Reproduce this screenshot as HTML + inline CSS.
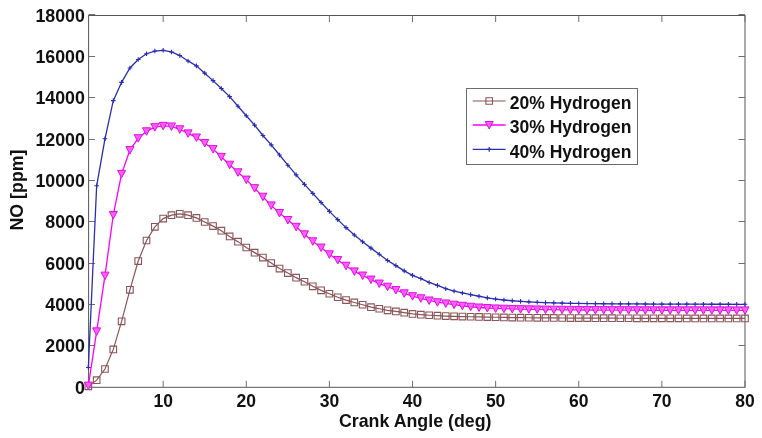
<!DOCTYPE html>
<html><head><meta charset="utf-8"><style>
html,body{margin:0;padding:0;background:#fff;width:762px;height:438px;overflow:hidden;font-family:"Liberation Sans",sans-serif;}
svg{display:block;filter:blur(0.4px)}
</style></head><body>
<svg width="762" height="438" viewBox="0 0 762 438"><rect x="0" y="0" width="762" height="438" fill="#fff"/><rect x="88.6" y="15.5" width="656.4" height="371.8" fill="none" stroke="#555" stroke-width="1"/><path d="M163.16,387.30v-6.5M163.16,15.50v6.5M246.28,387.30v-6.5M246.28,15.50v6.5M329.40,387.30v-6.5M329.40,15.50v6.5M412.52,387.30v-6.5M412.52,15.50v6.5M495.64,387.30v-6.5M495.64,15.50v6.5M578.76,387.30v-6.5M578.76,15.50v6.5M661.88,387.30v-6.5M661.88,15.50v6.5M745.00,387.30v-6.5M745.00,15.50v6.5M88.60,345.50h6.5M745.00,345.50h-6.5M88.60,304.50h6.5M745.00,304.50h-6.5M88.60,263.50h6.5M745.00,263.50h-6.5M88.60,221.50h6.5M745.00,221.50h-6.5M88.60,180.50h6.5M745.00,180.50h-6.5M88.60,139.50h6.5M745.00,139.50h-6.5M88.60,97.50h6.5M745.00,97.50h-6.5M88.60,56.50h6.5M745.00,56.50h-6.5M88.60,14.50h6.5M745.00,14.50h-6.5" stroke="#707070" stroke-width="1" fill="none"/><path d="M88.35,386.37 L96.66,380.19 L104.97,369.00 L113.29,349.38 L121.60,321.36 L129.91,289.85 L138.22,261.07 L146.53,240.51 L154.85,226.82 L163.16,218.61 L171.47,215.20 L179.78,213.82 L188.09,215.20 L196.41,217.91 L204.72,222.01 L213.03,226.12 L221.34,230.67 L229.65,236.46 L237.97,241.63 L246.28,247.52 L254.59,252.63 L262.90,257.53 L271.21,263.03 L279.53,268.53 L287.84,273.04 L296.15,277.65 L304.46,281.74 L312.77,286.29 L321.09,290.35 L329.40,293.76 L337.71,297.25 L346.02,300.06 L354.33,302.46 L362.65,304.76 L370.96,307.16 L379.27,308.77 L387.58,310.36 L395.89,311.46 L404.21,312.66 L412.52,313.96 L420.83,314.69 L429.14,315.27 L437.45,315.72 L445.77,316.07 L454.08,316.34 L462.39,316.58 L470.70,316.77 L479.01,316.94 L487.33,317.10 L495.64,317.25 L503.95,317.40 L512.26,317.53 L520.57,317.65 L528.89,317.75 L537.20,317.83 L545.51,317.89 L553.82,317.94 L562.13,317.99 L570.45,318.03 L578.76,318.07 L587.07,318.10 L595.38,318.14 L603.69,318.17 L612.01,318.20 L620.32,318.23 L628.63,318.26 L636.94,318.28 L645.25,318.31 L653.57,318.33 L661.88,318.34 L670.19,318.36 L678.50,318.37 L686.81,318.39 L695.13,318.40 L703.44,318.41 L711.75,318.42 L720.06,318.43 L728.37,318.44 L736.69,318.44 L745.00,318.45" fill="none" stroke="#8a5458" stroke-width="1.2"/><path d="M85.05,383.07h6.6v6.6h-6.6zM93.36,376.89h6.6v6.6h-6.6zM101.67,365.70h6.6v6.6h-6.6zM109.99,346.08h6.6v6.6h-6.6zM118.30,318.06h6.6v6.6h-6.6zM126.61,286.55h6.6v6.6h-6.6zM134.92,257.77h6.6v6.6h-6.6zM143.23,237.21h6.6v6.6h-6.6zM151.55,223.52h6.6v6.6h-6.6zM159.86,215.31h6.6v6.6h-6.6zM168.17,211.90h6.6v6.6h-6.6zM176.48,210.52h6.6v6.6h-6.6zM184.79,211.90h6.6v6.6h-6.6zM193.11,214.61h6.6v6.6h-6.6zM201.42,218.71h6.6v6.6h-6.6zM209.73,222.82h6.6v6.6h-6.6zM218.04,227.37h6.6v6.6h-6.6zM226.35,233.16h6.6v6.6h-6.6zM234.67,238.33h6.6v6.6h-6.6zM242.98,244.22h6.6v6.6h-6.6zM251.29,249.33h6.6v6.6h-6.6zM259.60,254.23h6.6v6.6h-6.6zM267.91,259.73h6.6v6.6h-6.6zM276.23,265.23h6.6v6.6h-6.6zM284.54,269.74h6.6v6.6h-6.6zM292.85,274.35h6.6v6.6h-6.6zM301.16,278.44h6.6v6.6h-6.6zM309.47,282.99h6.6v6.6h-6.6zM317.79,287.05h6.6v6.6h-6.6zM326.10,290.46h6.6v6.6h-6.6zM334.41,293.95h6.6v6.6h-6.6zM342.72,296.76h6.6v6.6h-6.6zM351.03,299.16h6.6v6.6h-6.6zM359.35,301.46h6.6v6.6h-6.6zM367.66,303.86h6.6v6.6h-6.6zM375.97,305.47h6.6v6.6h-6.6zM384.28,307.06h6.6v6.6h-6.6zM392.59,308.16h6.6v6.6h-6.6zM400.91,309.36h6.6v6.6h-6.6zM409.22,310.66h6.6v6.6h-6.6zM417.53,311.39h6.6v6.6h-6.6zM425.84,311.97h6.6v6.6h-6.6zM434.15,312.42h6.6v6.6h-6.6zM442.47,312.77h6.6v6.6h-6.6zM450.78,313.04h6.6v6.6h-6.6zM459.09,313.28h6.6v6.6h-6.6zM467.40,313.47h6.6v6.6h-6.6zM475.71,313.64h6.6v6.6h-6.6zM484.03,313.80h6.6v6.6h-6.6zM492.34,313.95h6.6v6.6h-6.6zM500.65,314.10h6.6v6.6h-6.6zM508.96,314.23h6.6v6.6h-6.6zM517.27,314.35h6.6v6.6h-6.6zM525.59,314.45h6.6v6.6h-6.6zM533.90,314.53h6.6v6.6h-6.6zM542.21,314.59h6.6v6.6h-6.6zM550.52,314.64h6.6v6.6h-6.6zM558.83,314.69h6.6v6.6h-6.6zM567.15,314.73h6.6v6.6h-6.6zM575.46,314.77h6.6v6.6h-6.6zM583.77,314.80h6.6v6.6h-6.6zM592.08,314.84h6.6v6.6h-6.6zM600.39,314.87h6.6v6.6h-6.6zM608.71,314.90h6.6v6.6h-6.6zM617.02,314.93h6.6v6.6h-6.6zM625.33,314.96h6.6v6.6h-6.6zM633.64,314.98h6.6v6.6h-6.6zM641.95,315.01h6.6v6.6h-6.6zM650.27,315.03h6.6v6.6h-6.6zM658.58,315.04h6.6v6.6h-6.6zM666.89,315.06h6.6v6.6h-6.6zM675.20,315.07h6.6v6.6h-6.6zM683.51,315.09h6.6v6.6h-6.6zM691.83,315.10h6.6v6.6h-6.6zM700.14,315.11h6.6v6.6h-6.6zM708.45,315.12h6.6v6.6h-6.6zM716.76,315.13h6.6v6.6h-6.6zM725.07,315.14h6.6v6.6h-6.6zM733.39,315.14h6.6v6.6h-6.6zM741.70,315.15h6.6v6.6h-6.6z" fill="none" stroke="#8a5458" stroke-width="1.1"/><path d="M88.35,385.55 L96.66,331.37 L104.97,275.64 L113.29,214.95 L121.60,173.89 L129.91,150.07 L138.22,138.18 L146.53,131.27 L154.85,127.16 L163.16,125.85 L171.47,126.45 L179.78,129.27 L188.09,133.36 L196.41,137.47 L204.72,142.97 L213.03,149.07 L221.34,156.85 L229.65,164.69 L237.97,172.30 L246.28,179.60 L254.59,188.14 L262.90,196.70 L271.21,205.40 L279.53,213.01 L287.84,220.02 L296.15,226.82 L304.46,234.33 L312.77,241.30 L321.09,247.52 L329.40,254.32 L337.71,260.03 L346.02,265.74 L354.33,271.40 L362.65,275.54 L370.96,279.55 L379.27,283.54 L387.58,286.71 L395.89,290.01 L404.21,293.32 L412.52,296.16 L420.83,298.29 L429.14,300.46 L437.45,302.21 L445.77,303.45 L454.08,304.70 L462.39,305.73 L470.70,306.76 L479.01,307.49 L487.33,308.02 L495.64,308.42 L503.95,308.70 L512.26,308.94 L520.57,309.14 L528.89,309.31 L537.20,309.45 L545.51,309.57 L553.82,309.69 L562.13,309.79 L570.45,309.88 L578.76,309.96 L587.07,310.02 L595.38,310.07 L603.69,310.11 L612.01,310.14 L620.32,310.17 L628.63,310.20 L636.94,310.22 L645.25,310.24 L653.57,310.26 L661.88,310.28 L670.19,310.29 L678.50,310.31 L686.81,310.32 L695.13,310.34 L703.44,310.35 L711.75,310.36 L720.06,310.37 L728.37,310.37 L736.69,310.38 L745.00,310.38" fill="none" stroke="#ff00ff" stroke-width="1.3"/><path d="M84.35,382.05L92.35,382.05L88.35,389.55zM92.66,327.87L100.66,327.87L96.66,335.37zM100.97,272.14L108.97,272.14L104.97,279.64zM109.29,211.45L117.29,211.45L113.29,218.95zM117.60,170.39L125.60,170.39L121.60,177.89zM125.91,146.57L133.91,146.57L129.91,154.07zM134.22,134.68L142.22,134.68L138.22,142.18zM142.53,127.77L150.53,127.77L146.53,135.27zM150.85,123.66L158.85,123.66L154.85,131.16zM159.16,122.35L167.16,122.35L163.16,129.85zM167.47,122.95L175.47,122.95L171.47,130.45zM175.78,125.77L183.78,125.77L179.78,133.27zM184.09,129.86L192.09,129.86L188.09,137.36zM192.41,133.97L200.41,133.97L196.41,141.47zM200.72,139.47L208.72,139.47L204.72,146.97zM209.03,145.57L217.03,145.57L213.03,153.07zM217.34,153.35L225.34,153.35L221.34,160.85zM225.65,161.19L233.65,161.19L229.65,168.69zM233.97,168.80L241.97,168.80L237.97,176.30zM242.28,176.10L250.28,176.10L246.28,183.60zM250.59,184.64L258.59,184.64L254.59,192.14zM258.90,193.20L266.90,193.20L262.90,200.70zM267.21,201.90L275.21,201.90L271.21,209.40zM275.53,209.51L283.53,209.51L279.53,217.01zM283.84,216.52L291.84,216.52L287.84,224.02zM292.15,223.32L300.15,223.32L296.15,230.82zM300.46,230.83L308.46,230.83L304.46,238.33zM308.77,237.80L316.77,237.80L312.77,245.30zM317.09,244.02L325.09,244.02L321.09,251.52zM325.40,250.82L333.40,250.82L329.40,258.32zM333.71,256.53L341.71,256.53L337.71,264.03zM342.02,262.24L350.02,262.24L346.02,269.74zM350.33,267.90L358.33,267.90L354.33,275.40zM358.65,272.04L366.65,272.04L362.65,279.54zM366.96,276.05L374.96,276.05L370.96,283.55zM375.27,280.04L383.27,280.04L379.27,287.54zM383.58,283.21L391.58,283.21L387.58,290.71zM391.89,286.51L399.89,286.51L395.89,294.01zM400.21,289.82L408.21,289.82L404.21,297.32zM408.52,292.66L416.52,292.66L412.52,300.16zM416.83,294.79L424.83,294.79L420.83,302.29zM425.14,296.96L433.14,296.96L429.14,304.46zM433.45,298.71L441.45,298.71L437.45,306.21zM441.77,299.95L449.77,299.95L445.77,307.45zM450.08,301.20L458.08,301.20L454.08,308.70zM458.39,302.23L466.39,302.23L462.39,309.73zM466.70,303.26L474.70,303.26L470.70,310.76zM475.01,303.99L483.01,303.99L479.01,311.49zM483.33,304.52L491.33,304.52L487.33,312.02zM491.64,304.92L499.64,304.92L495.64,312.42zM499.95,305.20L507.95,305.20L503.95,312.70zM508.26,305.44L516.26,305.44L512.26,312.94zM516.57,305.64L524.57,305.64L520.57,313.14zM524.89,305.81L532.89,305.81L528.89,313.31zM533.20,305.95L541.20,305.95L537.20,313.45zM541.51,306.07L549.51,306.07L545.51,313.57zM549.82,306.19L557.82,306.19L553.82,313.69zM558.13,306.29L566.13,306.29L562.13,313.79zM566.45,306.38L574.45,306.38L570.45,313.88zM574.76,306.46L582.76,306.46L578.76,313.96zM583.07,306.52L591.07,306.52L587.07,314.02zM591.38,306.57L599.38,306.57L595.38,314.07zM599.69,306.61L607.69,306.61L603.69,314.11zM608.01,306.64L616.01,306.64L612.01,314.14zM616.32,306.67L624.32,306.67L620.32,314.17zM624.63,306.70L632.63,306.70L628.63,314.20zM632.94,306.72L640.94,306.72L636.94,314.22zM641.25,306.74L649.25,306.74L645.25,314.24zM649.57,306.76L657.57,306.76L653.57,314.26zM657.88,306.78L665.88,306.78L661.88,314.28zM666.19,306.79L674.19,306.79L670.19,314.29zM674.50,306.81L682.50,306.81L678.50,314.31zM682.81,306.82L690.81,306.82L686.81,314.32zM691.13,306.84L699.13,306.84L695.13,314.34zM699.44,306.85L707.44,306.85L703.44,314.35zM707.75,306.86L715.75,306.86L711.75,314.36zM716.06,306.87L724.06,306.87L720.06,314.37zM724.37,306.87L732.37,306.87L728.37,314.37zM732.69,306.88L740.69,306.88L736.69,314.38zM741.00,306.88L749.00,306.88L745.00,314.38z" fill="#ff5cff" stroke="#e010e0" stroke-width="1"/><path d="M88.35,367.56 L96.66,185.80 L104.97,138.78 L113.29,100.65 L121.60,82.35 L129.91,67.94 L138.22,59.44 L146.53,53.73 L154.85,51.02 L163.16,50.32 L171.47,51.93 L179.78,55.53 L188.09,61.03 L196.41,65.83 L204.72,73.15 L213.03,80.63 L221.34,88.45 L229.65,96.64 L237.97,106.25 L246.28,115.70 L254.59,125.17 L262.90,135.47 L271.21,144.92 L279.53,155.03 L287.84,165.18 L296.15,174.88 L304.46,184.35 L312.77,193.35 L321.09,202.51 L329.40,211.42 L337.71,219.61 L346.02,227.61 L354.33,234.93 L362.65,241.73 L370.96,248.12 L379.27,254.32 L387.58,260.53 L395.89,265.61 L404.21,270.89 L412.52,275.33 L420.83,278.54 L429.14,282.45 L437.45,285.36 L445.77,288.69 L454.08,291.01 L462.39,292.95 L470.70,294.60 L479.01,296.26 L487.33,297.87 L495.64,299.04 L503.95,300.01 L512.26,300.77 L520.57,301.37 L528.89,301.89 L537.20,302.31 L545.51,302.63 L553.82,302.87 L562.13,303.09 L570.45,303.28 L578.76,303.44 L587.07,303.56 L595.38,303.66 L603.69,303.74 L612.01,303.81 L620.32,303.87 L628.63,303.92 L636.94,303.97 L645.25,304.01 L653.57,304.04 L661.88,304.08 L670.19,304.11 L678.50,304.13 L686.81,304.16 L695.13,304.19 L703.44,304.21 L711.75,304.23 L720.06,304.25 L728.37,304.27 L736.69,304.28 L745.00,304.28" fill="none" stroke="#2a30aa" stroke-width="1.3"/><path d="M86.05,367.56h4.6M88.35,365.26v4.6M94.36,185.80h4.6M96.66,183.50v4.6M102.67,138.78h4.6M104.97,136.48v4.6M110.99,100.65h4.6M113.29,98.35v4.6M119.30,82.35h4.6M121.60,80.05v4.6M127.61,67.94h4.6M129.91,65.64v4.6M135.92,59.44h4.6M138.22,57.14v4.6M144.23,53.73h4.6M146.53,51.43v4.6M152.55,51.02h4.6M154.85,48.72v4.6M160.86,50.32h4.6M163.16,48.02v4.6M169.17,51.93h4.6M171.47,49.63v4.6M177.48,55.53h4.6M179.78,53.23v4.6M185.79,61.03h4.6M188.09,58.73v4.6M194.11,65.83h4.6M196.41,63.53v4.6M202.42,73.15h4.6M204.72,70.85v4.6M210.73,80.63h4.6M213.03,78.33v4.6M219.04,88.45h4.6M221.34,86.15v4.6M227.35,96.64h4.6M229.65,94.34v4.6M235.67,106.25h4.6M237.97,103.95v4.6M243.98,115.70h4.6M246.28,113.40v4.6M252.29,125.17h4.6M254.59,122.87v4.6M260.60,135.47h4.6M262.90,133.17v4.6M268.91,144.92h4.6M271.21,142.62v4.6M277.23,155.03h4.6M279.53,152.73v4.6M285.54,165.18h4.6M287.84,162.88v4.6M293.85,174.88h4.6M296.15,172.58v4.6M302.16,184.35h4.6M304.46,182.05v4.6M310.47,193.35h4.6M312.77,191.05v4.6M318.79,202.51h4.6M321.09,200.21v4.6M327.10,211.42h4.6M329.40,209.12v4.6M335.41,219.61h4.6M337.71,217.31v4.6M343.72,227.61h4.6M346.02,225.31v4.6M352.03,234.93h4.6M354.33,232.63v4.6M360.35,241.73h4.6M362.65,239.43v4.6M368.66,248.12h4.6M370.96,245.82v4.6M376.97,254.32h4.6M379.27,252.02v4.6M385.28,260.53h4.6M387.58,258.23v4.6M393.59,265.61h4.6M395.89,263.31v4.6M401.91,270.89h4.6M404.21,268.59v4.6M410.22,275.33h4.6M412.52,273.03v4.6M418.53,278.54h4.6M420.83,276.24v4.6M426.84,282.45h4.6M429.14,280.15v4.6M435.15,285.36h4.6M437.45,283.06v4.6M443.47,288.69h4.6M445.77,286.39v4.6M451.78,291.01h4.6M454.08,288.71v4.6M460.09,292.95h4.6M462.39,290.65v4.6M468.40,294.60h4.6M470.70,292.30v4.6M476.71,296.26h4.6M479.01,293.96v4.6M485.03,297.87h4.6M487.33,295.57v4.6M493.34,299.04h4.6M495.64,296.74v4.6M501.65,300.01h4.6M503.95,297.71v4.6M509.96,300.77h4.6M512.26,298.47v4.6M518.27,301.37h4.6M520.57,299.07v4.6M526.59,301.89h4.6M528.89,299.59v4.6M534.90,302.31h4.6M537.20,300.01v4.6M543.21,302.63h4.6M545.51,300.33v4.6M551.52,302.87h4.6M553.82,300.57v4.6M559.83,303.09h4.6M562.13,300.79v4.6M568.15,303.28h4.6M570.45,300.98v4.6M576.46,303.44h4.6M578.76,301.14v4.6M584.77,303.56h4.6M587.07,301.26v4.6M593.08,303.66h4.6M595.38,301.36v4.6M601.39,303.74h4.6M603.69,301.44v4.6M609.71,303.81h4.6M612.01,301.51v4.6M618.02,303.87h4.6M620.32,301.57v4.6M626.33,303.92h4.6M628.63,301.62v4.6M634.64,303.97h4.6M636.94,301.67v4.6M642.95,304.01h4.6M645.25,301.71v4.6M651.27,304.04h4.6M653.57,301.74v4.6M659.58,304.08h4.6M661.88,301.78v4.6M667.89,304.11h4.6M670.19,301.81v4.6M676.20,304.13h4.6M678.50,301.83v4.6M684.51,304.16h4.6M686.81,301.86v4.6M692.83,304.19h4.6M695.13,301.89v4.6M701.14,304.21h4.6M703.44,301.91v4.6M709.45,304.23h4.6M711.75,301.93v4.6M717.76,304.25h4.6M720.06,301.95v4.6M726.07,304.27h4.6M728.37,301.97v4.6M734.39,304.28h4.6M736.69,301.98v4.6M742.70,304.28h4.6M745.00,301.98v4.6" fill="none" stroke="#2a2ab8" stroke-width="1.1"/><g font-family="Liberation Sans" font-weight="bold" font-size="17.5" fill="#111"><text x="84.9" y="393.80" text-anchor="end" font-size="17.8">0</text><text x="84.9" y="352.44" text-anchor="end" font-size="17.8">2000</text><text x="84.9" y="311.09" text-anchor="end" font-size="17.8">4000</text><text x="84.9" y="269.73" text-anchor="end" font-size="17.8">6000</text><text x="84.9" y="228.38" text-anchor="end" font-size="17.8">8000</text><text x="84.9" y="187.02" text-anchor="end" font-size="17.8">10000</text><text x="84.9" y="145.67" text-anchor="end" font-size="17.8">12000</text><text x="84.9" y="104.31" text-anchor="end" font-size="17.8">14000</text><text x="84.9" y="62.96" text-anchor="end" font-size="17.8">16000</text><text x="84.9" y="21.60" text-anchor="end" font-size="17.8">18000</text><text x="163.16" y="406.5" text-anchor="middle">10</text><text x="246.28" y="406.5" text-anchor="middle">20</text><text x="329.40" y="406.5" text-anchor="middle">30</text><text x="412.52" y="406.5" text-anchor="middle">40</text><text x="495.64" y="406.5" text-anchor="middle">50</text><text x="578.76" y="406.5" text-anchor="middle">60</text><text x="661.88" y="406.5" text-anchor="middle">70</text><text x="745.00" y="406.5" text-anchor="middle">80</text><text x="415.2" y="426.6" text-anchor="middle" font-size="17.8">Crank Angle (deg)</text><text transform="translate(22.9,190.0) rotate(-90)" text-anchor="middle" font-size="17.8">NO [ppm]</text></g><rect x="466.5" y="88.5" width="171.00" height="76.00" fill="#fff" stroke="#6a6a6a" stroke-width="1"/><path d="M472.7,101.0H505.6" stroke="#8a5458" stroke-width="1.1"/><path d="M485.90,97.70h6.6v6.6h-6.6z" fill="none" stroke="#8a5458" stroke-width="1.1"/><path d="M472.7,125.0H505.6" stroke="#ff00ff" stroke-width="1.3"/><path d="M485.20,121.50L493.20,121.50L489.20,129.00z" fill="#ff5cff" stroke="#e010e0" stroke-width="1"/><path d="M472.7,149.4H505.6" stroke="#2a30aa" stroke-width="1.1"/><path d="M486.90,149.40h4.6M489.20,147.10v4.6" stroke="#2a2ab8" stroke-width="1.2"/><g font-family="Liberation Sans" font-weight="bold" font-size="17.5" fill="#111"><text x="509.8" y="109.10">20% Hydrogen</text><text x="509.8" y="133.10">30% Hydrogen</text><text x="509.8" y="157.50">40% Hydrogen</text></g></svg>
</body></html>
